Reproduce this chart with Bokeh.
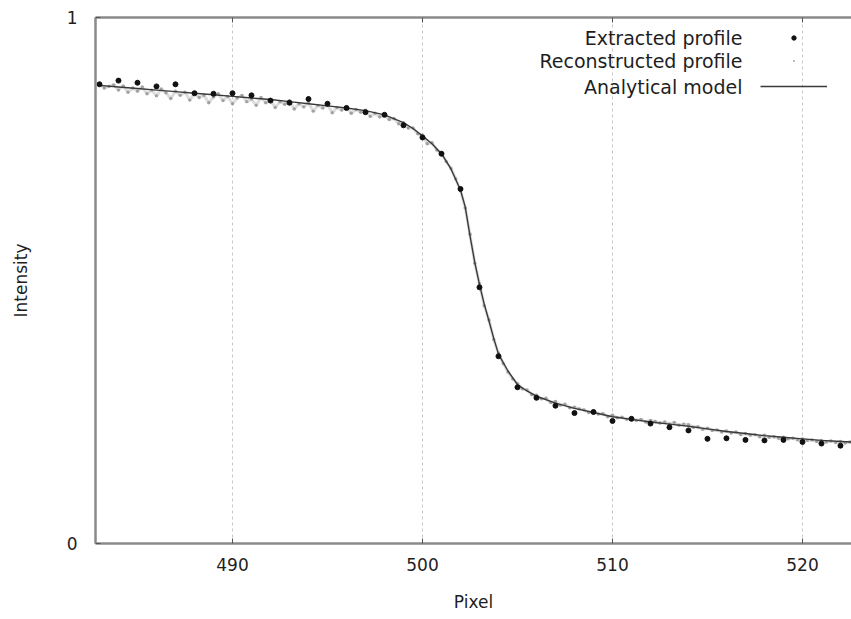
import numpy as np
from bokeh.plotting import figure
from bokeh.models import (Range1d, LinearAxis, FixedTicker, Legend, LegendItem, Label)
from bokeh.embed import file_html
from bokeh.resources import INLINE

# ---- data ----
x_ticks = [490, 500, 510, 520]
y_ticks = [0, 1]

ext_x = list(range(483, 523))
ext_y = [0.873, 0.880, 0.876, 0.869, 0.873, 0.856, 0.855, 0.856, 0.852, 0.842,
         0.838, 0.845, 0.836, 0.828, 0.820, 0.815, 0.795, 0.772,
         0.741, 0.674, 0.487, 0.356, 0.297,
         0.277, 0.262, 0.248, 0.250, 0.233, 0.237, 0.228, 0.221, 0.215, 0.199,
         0.200, 0.197, 0.196, 0.197, 0.193, 0.190, 0.186]

recon_start = 483.0
recon_step = 0.25
recon_y = [
    0.874, 0.866, 0.869, 0.872, 0.862, 0.870, 0.858, 0.866,
    0.860, 0.868, 0.855, 0.862, 0.851, 0.864, 0.857, 0.846,
    0.860, 0.852, 0.858, 0.843, 0.855, 0.848, 0.852, 0.838,
    0.849, 0.855, 0.842, 0.850, 0.836, 0.847, 0.852, 0.840,
    0.845, 0.833, 0.848, 0.838, 0.843, 0.829, 0.840, 0.835,
    0.842, 0.826, 0.836, 0.830, 0.838, 0.822, 0.833, 0.828,
    0.834, 0.819, 0.829, 0.824, 0.830, 0.818, 0.825, 0.820,
    0.824, 0.812, 0.818, 0.811, 0.815, 0.806, 0.808, 0.798,
    0.800, 0.790, 0.790, 0.779, 0.776, 0.760, 0.762, 0.748,
    0.742, 0.726, 0.713, 0.693, 0.671, 0.638, 0.588, 0.533,
    0.494, 0.452, 0.425, 0.388, 0.362, 0.342, 0.326, 0.313,
    0.304, 0.294, 0.292, 0.283, 0.282, 0.275, 0.276, 0.268,
    0.270, 0.263, 0.265, 0.258, 0.259, 0.256, 0.254, 0.249,
    0.252, 0.246, 0.247, 0.241, 0.244, 0.239, 0.240, 0.236,
    0.239, 0.234, 0.236, 0.231, 0.234, 0.232, 0.229, 0.231,
    0.227, 0.230, 0.225, 0.227, 0.226, 0.221, 0.222, 0.217,
    0.219, 0.215, 0.216, 0.212, 0.214, 0.210, 0.212, 0.207,
    0.209, 0.206, 0.207, 0.203, 0.206, 0.202, 0.203, 0.200,
    0.202, 0.199, 0.200, 0.197, 0.199, 0.196, 0.197, 0.194,
    0.196, 0.193, 0.195, 0.192, 0.194, 0.191, 0.193,
]
recon_x = list(recon_start + recon_step * np.arange(len(recon_y)))

model_x = [483, 484, 485, 486, 487, 488, 489, 490, 491, 492, 493, 494, 495, 496,
           497, 498, 499, 499.5, 500, 500.5, 501, 501.5, 502, 502.25, 502.5,
           502.75, 503, 503.25, 503.5, 503.75, 504, 504.5, 505, 505.5, 506, 507,
           508, 509, 510, 511, 512, 513, 514, 515, 516, 517, 518, 519, 520, 521,
           522, 523]
model_y = [0.871, 0.868, 0.865, 0.862, 0.859, 0.856, 0.853, 0.850, 0.847, 0.844,
           0.840, 0.836, 0.832, 0.828, 0.823, 0.815, 0.800, 0.789, 0.775, 0.760,
           0.741, 0.712, 0.672, 0.640, 0.585, 0.535, 0.492, 0.455, 0.423, 0.390,
           0.360, 0.328, 0.302, 0.290, 0.280, 0.267, 0.257, 0.249, 0.241, 0.236,
           0.231, 0.227, 0.223, 0.218, 0.213, 0.209, 0.205, 0.202, 0.199, 0.196,
           0.194, 0.192]

labels = ["Extracted profile", "Reconstructed profile", "Analytical model"]

FONT = "DejaVu Sans"
TXT = "#1e1e1e"
AX = "#8a8a8a"

p = figure(width=851, height=619, output_backend="svg", toolbar_location=None,
           x_range=Range1d(482.79, 522.58), y_range=Range1d(0, 1),
           min_border_left=95, min_border_right=0, min_border_top=17,
           min_border_bottom=76, x_axis_label="Pixel", y_axis_label="Intensity")
p.outline_line_color = None
p.background_fill_color = "white"

for ax in (p.xaxis[0], p.yaxis[0]):
    ax.axis_line_color = AX
    ax.axis_line_width = 2.5
    ax.major_tick_in = 5
    ax.major_tick_out = 0
    ax.major_tick_line_color = "#555555"
    ax.minor_tick_line_color = None
    ax.major_label_text_font = FONT
    ax.major_label_text_font_size = "17px"
    ax.major_label_text_color = TXT
    ax.axis_label_text_font = FONT
    ax.axis_label_text_font_size = "17px"
    ax.axis_label_text_font_style = "normal"
    ax.axis_label_text_color = TXT

p.xaxis.ticker = FixedTicker(ticks=x_ticks)
p.yaxis.ticker = FixedTicker(ticks=y_ticks)
p.xaxis.major_label_standoff = 14
p.xaxis.axis_label_standoff = 18
p.yaxis.major_label_standoff = 18
p.yaxis.axis_label_standoff = 33

top = LinearAxis(ticker=FixedTicker(ticks=x_ticks))
top.axis_line_color = AX
top.axis_line_width = 2.5
top.major_tick_in = 5
top.major_tick_out = 0
top.major_tick_line_color = "#555555"
top.minor_tick_line_color = None
top.major_label_text_color = None
p.add_layout(top, "above")

p.xgrid.ticker = FixedTicker(ticks=x_ticks)
p.xgrid.grid_line_color = "#c8c8c8"
p.xgrid.grid_line_dash = "3 3"
p.xgrid.grid_line_width = 1
p.ygrid.visible = False

# reconstructed profile (gray dots)
p.line(recon_x, recon_y, line_color="#a8a8a8", line_width=3, line_alpha=0.4)
r_rec = p.scatter(recon_x, recon_y, marker="circle", size=3.4,
                  fill_color="#929292", line_color=None, fill_alpha=0.8)
# analytical model
r_mod = p.line(model_x, model_y, line_color="#3a3a3a", line_width=1.4)
# extracted profile
r_ext = p.scatter(ext_x, ext_y, marker="circle", size=5,
                  fill_color="#111111", line_color="#111111")

# legend samples (glyph only, text drawn right-aligned to the left)
def sample(renderer, gh, top_px):
    row = 24
    lg = Legend(items=[LegendItem(label=" ", renderers=[renderer])],
                location=(760 - 95, 543 - (top_px + row)),
                glyph_width=67, glyph_height=gh, label_height=row,
                label_width=0, label_standoff=0, spacing=0, padding=0,
                margin=0, border_line_color=None, background_fill_alpha=0,
                label_text_font_size="10px")
    p.add_layout(lg)

sample(r_ext, 11, 25)
sample(r_rec, 5, 48)
sample(r_mod, 20, 74)

lx = 490 + (742 - 232) / 19.0
for txt, py in zip(labels, [37, 60, 86]):
    p.add_layout(Label(x=lx, y=(543 - py) / 526.0, text=txt, text_align="right",
                       text_baseline="middle", text_font=FONT,
                       text_font_size="19px", text_color=TXT))

open("out.html", "w").write(file_html(p, INLINE))
